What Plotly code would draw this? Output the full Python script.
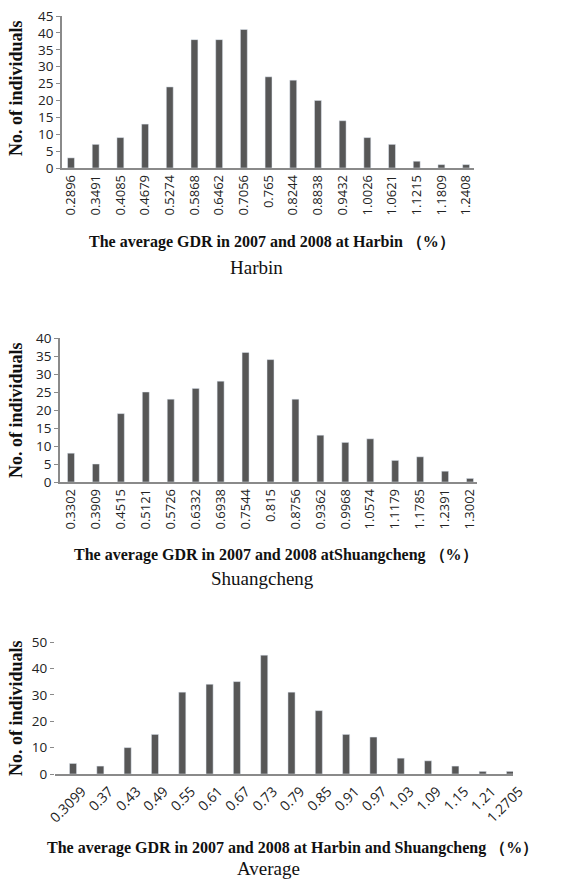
import plotly.graph_objects as go

W, H = 573, 882

harbin_labels = ["0.2896","0.3491","0.4085","0.4679","0.5274","0.5868","0.6462","0.7056","0.765",
                 "0.8244","0.8838","0.9432","1.0026","1.0621","1.1215","1.1809","1.2408"]
harbin_counts = [3,7,9,13,24,38,38,41,27,26,20,14,9,7,2,1,1]

shuang_labels = ["0.3302","0.3909","0.4515","0.5121","0.5726","0.6332","0.6938","0.7544","0.815",
                 "0.8756","0.9362","0.9968","1.0574","1.1179","1.1785","1.2391","1.3002"]
shuang_counts = [8,5,19,25,23,26,28,36,34,23,13,11,12,6,7,3,1]

avg_labels = ["0.3099","0.37","0.43","0.49","0.55","0.61","0.67","0.73","0.79",
              "0.85","0.91","0.97","1.03","1.09","1.15","1.21","1.2705"]
avg_counts = [4,3,10,15,31,34,35,45,31,24,15,14,6,5,3,1,1]

BAR = "#575757"
AX = "#8a8a8a"
XTICKFONT = dict(family="Open Sans", size=13, color="#222")
YTICKFONT = dict(family="Open Sans", size=13.5, color="#222")

def px_x(p): return p / W
def px_y(p): return 1 - p / H

fig = go.Figure()
# (labels, values, x-domain px, y-domain px, ymax, dtick, angle, y line, bar width, font, x range, label shift)
panels = [
    (harbin_labels, harbin_counts, (62, 474), (16, 168), 45, 5, -90, True, 0.28, 13, (-0.364, 16.32), 0),
    (shuang_labels, shuang_counts, (60, 477), (338, 482), 40, 5, -90, True, 0.28, 13, (-0.44, 16.28), 0),
    (avg_labels, avg_counts, (55, 513), (642, 774), 50, 10, -45, False, 0.26, 14, (-0.66, 16.11), 9),
]
for i, (labs, vals, xd, yd, ymax, dt, ang, yline, bw, xfs, xr, sh) in enumerate(panels):
    n = "" if i == 0 else str(i + 1)
    fig.add_trace(go.Bar(x=list(range(len(labs))), y=vals, marker_color=BAR, width=bw,
                         xaxis="x" + n, yaxis="y" + n, showlegend=False, hoverinfo="skip"))
    fig.update_layout(**{
        "xaxis" + n: dict(domain=[px_x(xd[0]), px_x(xd[1])], anchor="y" + n,
                          range=list(xr), tickmode="array",
                          tickvals=list(range(len(labs))), ticktext=labs, tickangle=ang,
                          ticklabelshift=sh, ticklabelstandoff=2 if sh else 0,
                          showline=True, linecolor=AX, linewidth=1.5, ticks="",
                          showgrid=False, zeroline=False, automargin=False,
                          tickfont=dict(XTICKFONT, size=xfs), fixedrange=True),
        "yaxis" + n: dict(domain=[px_y(yd[1]), px_y(yd[0])], anchor="x" + n,
                          range=[0, ymax], dtick=dt, showline=yline, linecolor=AX, linewidth=1.5,
                          ticks="outside", ticklen=4, tickcolor=AX, showgrid=False,
                          zeroline=False, automargin=False, tickfont=YTICKFONT, fixedrange=True),
    })

annots = []
ytitle_font = dict(family="Liberation Serif", size=18, color="#111")
for yc in [88, 410, 708]:
    annots.append(dict(text="<b>No. of individuals</b>", x=px_x(16), y=px_y(yc), xref="paper", yref="paper",
                       textangle=-90, showarrow=False, font=ytitle_font, xanchor="center", yanchor="middle"))

xt_font = dict(family="Liberation Serif", size=16, color="#111")
sub_font = dict(family="Liberation Serif", size=19, color="#111")
annots += [
    dict(text="<b>The average GDR in 2007 and 2008 at Harbin （%）</b>", x=px_x(272), y=px_y(242)),
    dict(text="Harbin", x=px_x(256), y=px_y(267), font=sub_font),
    dict(text="<b>The average GDR in 2007 and 2008 atShuangcheng （%）</b>", x=px_x(276), y=px_y(555)),
    dict(text="Shuangcheng", x=px_x(262), y=px_y(578), font=sub_font),
    dict(text="<b>The average GDR in 2007 and 2008 at Harbin and Shuangcheng （%）</b>", x=px_x(292), y=px_y(848)),
    dict(text="Average", x=px_x(268), y=px_y(868), font=sub_font),
]
for a in annots[3:]:
    a.setdefault("font", xt_font)
    a.update(xref="paper", yref="paper", showarrow=False, xanchor="center", yanchor="middle")

fig.update_layout(width=W, height=H, margin=dict(l=0, r=0, t=0, b=0, autoexpand=False),
                  paper_bgcolor="white", plot_bgcolor="white", annotations=annots)
fig.write_html("out.html", config={"displayModeBar": False},
               post_script="document.body.style.margin='0';document.body.style.overflow='hidden';")
